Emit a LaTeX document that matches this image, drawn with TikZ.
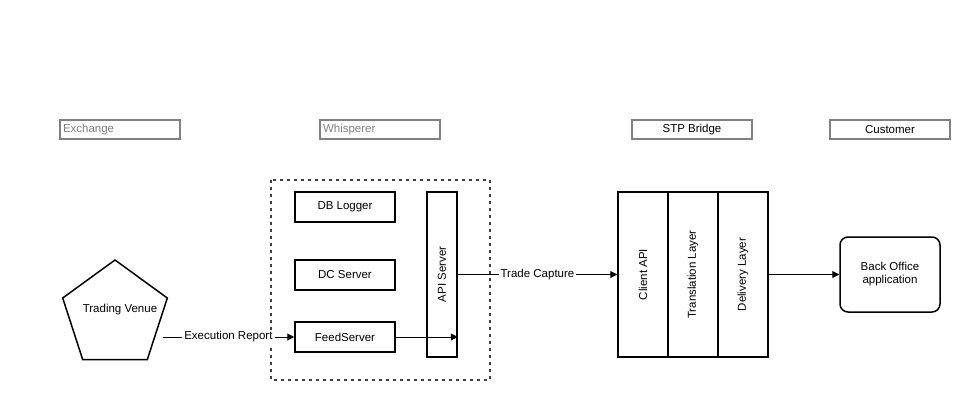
\documentclass[tikz,border=0pt]{standalone}
\usepackage{fontspec}
\setmainfont{Liberation Sans}
\usetikzlibrary{shapes.geometric,arrows.meta}
\definecolor{hdrgray}{RGB}{128,128,128}
\tikzset{
  hdr/.style={draw=hdrgray, line width=1.5pt, minimum width=120pt, minimum height=19pt, inner sep=3pt},
  box/.style={draw, line width=1.5pt, minimum width=100pt, minimum height=30pt},
  vbox/.style={draw, line width=1.5pt, minimum width=165pt, minimum height=30pt, rotate=90},
  lbl/.style={fill=white, inner sep=2pt},
  conn/.style={-{Triangle[length=7pt,width=7pt]}, line width=1pt},
}
\begin{document}
\begin{tikzpicture}[x=1pt, y=-1pt, font=\fontsize{11.5}{13}\selectfont]
  \useasboundingbox (0,0) rectangle (970,405);
  % headers
  \node[hdr, text width=114pt, align=left, text=hdrgray] (exch) at (120,129.5) {Exchange};
  \node[hdr, text width=114pt, align=left, text=hdrgray] (whsp) at (380,129.5) {Whisperer};
  \node[hdr] (stp) at (692,129.5) {STP Bridge};
  \node[hdr] (cust) at (890,129.5) {Customer};
  % exchange
  \node[draw, line width=1.5pt, regular polygon, regular polygon sides=5, minimum size=110pt, inner sep=0pt] (tv) at (115,315) {};
  \node at (120,310) {Trading Venue};
  % whisperer
  \draw[line width=1.5pt, dash pattern=on 3pt off 4pt, draw=black!75] (271,180) rectangle (490,380);
  \node[box] (dbl) at (345,207) {DB Logger};
  \node[box] (dcs) at (345,275) {DC Server};
  \node[box] (fs) at (345,337) {FeedServer};
  \node[vbox] (api) at (442,274.5) {API Server};
  % stp bridge
  \node[vbox, minimum height=50pt] (capi) at (643,274.5) {Client API};
  \node[vbox, minimum height=50pt] (trl) at (693,274.5) {Translation Layer};
  \node[vbox, minimum height=50pt] (dll) at (743,274.5) {Delivery Layer};
  % customer
  \node[draw, line width=1.5pt, rounded corners=8pt, minimum width=100pt, minimum height=75pt, align=center] (bo) at (890,274.5) {Back Office\\application};
  % connectors
  \draw[conn] (tv.east |- fs.west) -- node[lbl] {Execution Report} (fs.west);
  \draw[conn] (fs.east) -- (api.south |- fs.east);
  \draw[conn] (api.south) -- node[lbl] {Trade Capture} (capi.north);
  \draw[conn] (dll.south) -- (bo.west);
\end{tikzpicture}
\end{document}
